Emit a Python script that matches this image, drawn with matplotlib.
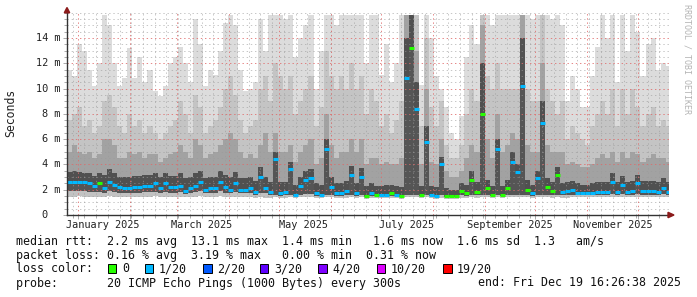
import datetime as dt
import matplotlib
matplotlib.use("Agg")
import matplotlib.pyplot as plt
import matplotlib.dates as mdates
from matplotlib.patches import Polygon, Rectangle
from matplotlib.transforms import blended_transform_factory

plt.rcParams['lines.scale_dashes'] = False

# ---------------- data (ms), one bin = 3 days starting 2024-12-25 ----------------
rtt_med = [2.6, 2.6, 2.6, 2.6, 2.5, 2.3, 2.5, 2.1, 2.6, 2.4, 2.2, 2.1, 2.1, 2.2, 2.2, 2.3, 2.3, 2.5, 2.1, 2.5,
           2.2, 2.2, 2.3, 1.9, 2.1, 2.3, 2.6, 2.0, 2.1, 2.1, 2.6, 2.2, 2.0, 2.5, 2.0, 2.0, 2.1, 1.8, 3.0, 2.1,
           1.8, 4.4, 1.7, 1.8, 3.6, 1.6, 2.3, 2.8, 2.9, 1.7, 1.6, 5.2, 2.2, 1.7, 1.7, 1.9, 3.2, 1.7, 3.0, 1.5,
           1.7, 1.6, 1.6, 1.6, 1.7, 1.6, 1.5, 10.8, 13.2, 8.4, 1.6, 5.8, 1.6, 1.5, 4.0, 1.5, 1.5, 1.5, 1.9, 1.7,
           2.8, 1.8, 8.0, 2.1, 1.6, 5.2, 1.6, 2.1, 4.2, 3.4, 10.2, 2.0, 1.7, 2.9, 7.3, 2.2, 1.9, 3.2, 1.8, 1.9,
           2.0, 1.7, 1.7, 1.7, 1.75, 1.8, 1.8, 1.85, 2.6, 1.8, 2.4, 1.85, 1.9, 2.5, 1.9, 1.9, 1.9, 1.85, 2.1, 1.8]

loss = [1, 1, 1, 1, 1, 1, 0, 1, 1, 1, 1, 1, 1, 1, 1, 1, 1, 1, 1, 1,
        1, 1, 1, 1, 1, 1, 1, 1, 1, 1, 1, 1, 1, 1, 1, 1, 1, 1, 1, 1,
        1, 1, 1, 1, 1, 1, 1, 1, 1, 1, 1, 1, 1, 1, 1, 1, 1, 1, 1, 0,
        1, 0, 1, 1, 0, 1, 0, 1, 0, 1, 0, 1, 1, 1, 1, 0, 0, 0, 0, 0,
        0, 0, 0, 0, 0, 1, 0, 0, 1, 1, 1, 0, 1, 1, 1, 0, 0, 0, 1, 1,
        1, 1, 1, 1, 1, 1, 1, 1, 1, 1, 1, 1, 1, 1, 1, 1, 1, 1, 1, 1]

rtt_max = [11.5, 11.0, 13.5, 13.0, 11.5, 10.2, 12.0, 15.8, 15.0, 12.0, 10.2, 10.8, 13.2, 10.8, 12.5, 10.5, 11.5, 9.8, 9.4, 10.2,
           12.0, 12.5, 13.3, 12.0, 10.5, 15.5, 13.5, 10.2, 11.5, 11.1, 13.0, 15.2, 15.8, 15.0, 11.5, 9.8, 10.0, 10.5, 15.5, 13.0,
           15.8, 15.8, 15.8, 15.5, 15.8, 12.5, 14.0, 15.0, 15.8, 10.0, 13.0, 15.8, 15.8, 15.0, 15.8, 15.8, 15.8, 15.8, 15.8, 12.0,
           15.8, 15.8, 11.1, 13.5, 10.5, 12.0, 15.8, 15.8, 15.8, 15.8, 10.3, 15.8, 14.0, 11.0, 10.0, 8.5, 6.5, 6.0, 7.8, 12.5,
           15.0, 13.5, 15.8, 15.8, 15.0, 15.8, 15.8, 15.8, 15.8, 15.8, 15.8, 15.8, 15.5, 15.8, 15.8, 15.8, 15.5, 15.8, 15.0, 9.0,
           11.0, 10.0, 8.5, 8.5, 11.0, 13.3, 15.8, 14.0, 15.8, 10.5, 15.8, 13.0, 15.8, 14.5, 11.0, 13.5, 14.0, 11.5, 12.0, 11.8]

rtt_p90 = [7.5, 8.0, 8.5, 7.0, 7.5, 6.5, 7.0, 9.0, 9.5, 8.5, 7.0, 6.5, 8.0, 7.0, 7.5, 6.5, 7.0, 6.5, 6.0, 6.5,
           7.0, 7.5, 9.0, 8.0, 6.5, 9.5, 8.5, 6.5, 7.0, 7.5, 8.5, 10.0, 11.0, 9.5, 7.5, 6.5, 7.0, 7.5, 10.0, 11.0,
           9.0, 12.0, 11.0, 10.0, 11.0, 8.0, 9.0, 10.0, 11.0, 7.0, 8.5, 13.0, 11.0, 10.0, 11.0, 10.0, 12.0, 10.0, 11.0, 8.0,
           10.0, 9.0, 7.0, 8.0, 6.5, 7.5, 9.0, 15.8, 15.8, 15.8, 7.0, 14.0, 8.5, 7.0, 9.0, 5.5, 4.5, 4.5, 5.5, 8.0,
           10.0, 9.0, 15.8, 11.0, 10.0, 12.0, 10.0, 10.0, 10.0, 10.0, 15.8, 10.0, 9.0, 9.0, 15.8, 10.0, 9.0, 8.0, 9.0, 6.0,
           7.0, 6.5, 6.0, 5.5, 7.0, 8.0, 9.0, 8.0, 10.0, 7.0, 10.0, 8.0, 10.0, 8.5, 7.0, 8.0, 8.5, 7.0, 7.5, 7.0]

rtt_p75 = [5.0, 5.5, 5.0, 4.8, 5.0, 4.5, 4.8, 6.0, 6.0, 5.5, 4.5, 4.5, 5.0, 4.8, 5.0, 4.5, 4.8, 4.8, 4.2, 4.5,
           4.8, 5.0, 5.5, 5.0, 4.5, 6.0, 5.5, 4.5, 4.8, 5.0, 5.5, 6.0, 6.5, 6.0, 5.0, 4.5, 4.8, 4.5, 5.5, 6.5,
           5.0, 6.5, 5.0, 5.0, 5.5, 4.2, 5.0, 5.5, 6.0, 4.0, 4.5, 8.0, 5.5, 4.5, 5.0, 5.0, 6.0, 5.0, 6.0, 4.0,
           4.5, 4.5, 4.0, 4.2, 4.0, 4.0, 4.5, 15.8, 15.8, 13.0, 4.0, 10.0, 4.2, 4.0, 6.0, 3.5, 3.0, 3.0, 3.5, 4.5,
           5.5, 5.0, 15.0, 6.0, 4.5, 8.0, 5.0, 5.5, 6.5, 6.0, 15.8, 5.5, 5.0, 5.0, 12.0, 5.5, 5.0, 5.0, 5.0, 4.0,
           4.2, 4.0, 3.8, 3.8, 4.0, 4.5, 4.8, 4.5, 5.0, 4.2, 5.0, 4.5, 5.0, 4.8, 4.2, 4.5, 4.8, 4.5, 4.5, 4.2]

rtt_p60 = [3.4, 3.5, 3.4, 3.3, 3.3, 3.1, 3.3, 3.2, 3.6, 3.3, 3.0, 3.0, 3.0, 3.1, 3.1, 3.2, 3.2, 3.3, 3.0, 3.3,
           3.1, 3.1, 3.3, 2.9, 3.0, 3.3, 3.5, 2.9, 3.0, 3.0, 3.5, 3.2, 3.0, 3.4, 2.9, 2.9, 3.0, 2.7, 3.8, 3.0,
           2.6, 5.0, 2.6, 2.6, 4.2, 2.4, 3.0, 3.5, 3.6, 2.5, 2.4, 6.0, 3.0, 2.5, 2.5, 2.7, 3.9, 2.5, 3.7, 2.3,
           2.5, 2.3, 2.3, 2.4, 2.4, 2.3, 2.2, 14.0, 15.8, 10.5, 2.3, 7.0, 2.3, 2.2, 4.6, 2.1, 2.0, 2.0, 2.5, 2.4,
           3.5, 2.6, 12.0, 2.8, 2.3, 6.0, 2.3, 2.8, 5.0, 4.0, 14.0, 2.8, 2.4, 3.5, 9.0, 2.9, 2.6, 3.8, 2.5, 2.6,
           2.7, 2.5, 2.4, 2.4, 2.5, 2.6, 2.6, 2.6, 3.3, 2.6, 3.1, 2.6, 2.7, 3.2, 2.7, 2.7, 2.7, 2.6, 2.9, 2.6]

rtt_low = [1.9, 1.9, 1.9, 1.9, 1.85, 1.8, 1.85, 1.7, 1.9, 1.8, 1.75, 1.7, 1.7, 1.75, 1.75, 1.8, 1.8, 1.85, 1.7, 1.85,
           1.75, 1.75, 1.8, 1.65, 1.7, 1.8, 1.9, 1.7, 1.7, 1.7, 1.9, 1.75, 1.7, 1.85, 1.7, 1.7, 1.7, 1.6, 1.7, 1.7,
           1.55, 1.6, 1.5, 1.55, 1.6, 1.5, 1.6, 1.65, 1.65, 1.5, 1.5, 1.6, 1.6, 1.5, 1.5, 1.55, 1.6, 1.5, 1.6, 1.45,
           1.5, 1.5, 1.5, 1.5, 1.5, 1.5, 1.45, 1.6, 1.6, 1.6, 1.5, 1.6, 1.5, 1.45, 1.55, 1.45, 1.45, 1.45, 1.55, 1.5,
           1.6, 1.55, 1.6, 1.6, 1.5, 1.6, 1.5, 1.6, 1.6, 1.6, 1.6, 1.6, 1.5, 1.6, 1.6, 1.6, 1.55, 1.6, 1.55, 1.55,
           1.6, 1.55, 1.55, 1.55, 1.55, 1.6, 1.6, 1.6, 1.65, 1.6, 1.65, 1.6, 1.6, 1.65, 1.6, 1.6, 1.6, 1.6, 1.65, 1.6]

rtt_min = [1.45, 1.45, 1.5, 1.45, 1.45, 1.4, 1.45, 1.4, 1.5, 1.45, 1.4, 1.4, 1.4, 1.45, 1.45, 1.45, 1.45, 1.5, 1.4, 1.45,
           1.45, 1.4, 1.45, 1.4, 1.4, 1.45, 1.5, 1.4, 1.4, 1.4, 1.5, 1.45, 1.4, 1.45, 1.4, 1.4, 1.4, 1.35, 1.4, 1.35,
           1.35, 1.4, 1.35, 1.35, 1.4, 1.35, 1.4, 1.4, 1.4, 1.35, 1.35, 1.4, 1.4, 1.35, 1.35, 1.35, 1.4, 1.35, 1.4, 1.3,
           1.35, 1.35, 1.35, 1.35, 1.35, 1.35, 1.3, 1.4, 1.4, 1.4, 1.35, 1.4, 1.35, 1.3, 1.35, 1.3, 1.3, 1.3, 1.35, 1.35,
           1.4, 1.35, 1.4, 1.4, 1.35, 1.4, 1.35, 1.4, 1.4, 1.4, 1.4, 1.4, 1.35, 1.4, 1.4, 1.4, 1.35, 1.4, 1.35, 1.35,
           1.4, 1.4, 1.4, 1.4, 1.4, 1.4, 1.4, 1.4, 1.45, 1.4, 1.45, 1.4, 1.4, 1.45, 1.4, 1.4, 1.4, 1.4, 1.45, 1.4]

loss_levels = [0, 1, 2, 3, 4, 10, 19]
loss_labels = ["0", "1/20", "2/20", "3/20", "4/20", "10/20", "19/20"]
loss_colors = ["#26ff00", "#00b8ff", "#0059ff", "#5e00ff", "#7e00ff", "#dd00ff", "#ff0000"]

y_ticks = [0, 2, 4, 6, 8, 10, 12, 14]
month_labels = ["January 2025", "March 2025", "May 2025", "July 2025", "September 2025", "November 2025"]
month_label_dates = [dt.datetime(2025, m, 16) for m in (1, 3, 5, 7, 9, 11)]

legend_lines = [
    "median rtt:  2.2 ms avg  13.1 ms max  1.4 ms min   1.6 ms now  1.6 ms sd  1.3   am/s",
    "packet loss: 0.16 % avg  3.19 % max   0.00 % min  0.31 % now",
]
probe_text = "probe:       20 ICMP Echo Pings (1000 Bytes) every 300s"
end_text = "end: Fri Dec 19 16:26:38 2025"

start = dt.datetime(2024, 12, 25, 16, 26, 38)
end = dt.datetime(2025, 12, 19, 16, 26, 38)
bin_days = 3

# ---------------- figure ----------------
W, H = 697, 297
fig = plt.figure(figsize=(W / 100, H / 100), dpi=100)
fig.patch.set_facecolor("white")
L, R, B, T = 67, 669, 215, 12.6
ax = fig.add_axes([L / W, 1 - B / H, (R - L) / W, (B - T) / H])
ax.set_facecolor("white")
mono = "DejaVu Sans Mono"

n = len(rtt_med)
edges = mdates.date2num([start + dt.timedelta(days=bin_days * i) for i in range(n + 1)])

bands = [
    (rtt_min, rtt_low, "#c2c2c2"),
    (rtt_low, rtt_med, "#555555"),
    (rtt_med, rtt_p60, "#505050"),
    (rtt_p60, rtt_p75, "#a2a2a2"),
    (rtt_p75, rtt_p90, "#c4c4c4"),
    (rtt_p90, rtt_max, "#dcdcdc"),
]
for lo, hi, c in bands:
    ax.stairs(hi, edges, baseline=lo, fill=True, color=c, lw=0, zorder=1)

x0, x1 = mdates.date2num(start), mdates.date2num(end)
ax.set_xlim(x0, x1)
ax.set_ylim(0, 16)

# grid (drawn above smoke, like rrdtool)
minor_c, major_c = "#9a9a9a", "#e06a6a"
dash = (0, (1.0, 2.0))
for v in [k * 0.5 for k in range(1, 33)]:
    if v % 2 == 0 and v < 16:
        continue
    ax.axhline(v, color=minor_c, lw=0.72, ls=dash, alpha=0.55, zorder=3)
d = dt.datetime(2024, 12, 29)
while d < end:
    ax.axvline(mdates.date2num(d), color=minor_c, lw=0.72, ls=dash, alpha=0.55, zorder=3)
    d += dt.timedelta(days=7)
for v in y_ticks[1:]:
    ax.axhline(v, color=major_c, lw=0.72, ls=dash, alpha=0.8, zorder=3.1)
for m in range(1, 13):
    ax.axvline(mdates.date2num(dt.datetime(2025, m, 1)), color=major_c, lw=0.72, ls=dash, alpha=0.8, zorder=3.1)

# median, coloured by loss
def loss_color(l):
    c = loss_colors[0]
    for lev, col in zip(loss_levels, loss_colors):
        if l >= lev:
            c = col
    return c

for i in range(n):
    ax.hlines(rtt_med[i], edges[i], edges[i + 1], color=loss_color(loss[i]), lw=2.2, zorder=4)

# axes styling
for s in ("top", "right"):
    ax.spines[s].set_visible(False)
for s in ("left", "bottom"):
    ax.spines[s].set_color("#333333")
    ax.spines[s].set_linewidth(1.0)
    ax.spines[s].set_zorder(5)
ax.set_xticks([mdates.date2num(dt.datetime(2025, m, 1)) for m in range(1, 13)])
ax.set_xticks([mdates.date2num(dt.datetime(2024, 12, 29) + dt.timedelta(days=7 * k)) for k in range(51)], minor=True)
ax.set_yticks(y_ticks)
ax.set_yticks([k * 0.5 for k in range(33)], minor=True)
ax.tick_params(which="both", direction="out", labelleft=False, labelbottom=False, color="#aaaaaa", width=0.7)
ax.tick_params(which="major", length=3)
ax.tick_params(which="minor", length=2)

# y tick labels
ytr = blended_transform_factory(fig.transFigure, ax.transData)
for v in y_ticks:
    if v == 0:
        fig.text(47.8 / W, v, "0", transform=ytr, ha="right", va="center", fontsize=7.4, family=mono, color="#222222")
    else:
        fig.text(60.8 / W, v, f"{v} m", transform=ytr, ha="right", va="center", fontsize=7.4, family=mono, color="#222222")

# x tick labels
for lab, dd in zip(month_labels, month_label_dates):
    ax.text(mdates.date2num(dd), -(224.5 - B) / (B - T), lab, transform=ax.get_xaxis_transform(),
            ha="center", va="center", fontsize=7.4, family=mono, color="#222222")

# axis arrows
arrow_c = "#8b1a1a"
fig.patches.append(Polygon([(64.3 / W, 1 - 12.8 / H), (69.7 / W, 1 - 12.8 / H), (67 / W, 1 - 7.5 / H)],
                           closed=True, transform=fig.transFigure, color=arrow_c, zorder=6))
fig.patches.append(Polygon([(668 / W, 1 - 212.3 / H), (668 / W, 1 - 217.7 / H), (674 / W, 1 - 215 / H)],
                           closed=True, transform=fig.transFigure, color=arrow_c, zorder=6))

# y label and watermark
fig.text(11 / W, 1 - 113 / H, "Seconds", rotation=90, ha="center", va="center", fontsize=8.3, family=mono, color="#222222")
fig.text(687 / W, 1 - 4 / H, "RRDTOOL / TOBI OETIKER", rotation=270, ha="center", va="top",
         fontsize=6.0, family=mono, color="#b4b4b4")

# legend text
ys = [241, 255.5, 269, 283]
for s, yy in zip(legend_lines, ys[:2]):
    fig.text(15.8 / W, 1 - yy / H, s, ha="left", va="center", fontsize=8.4, family=mono, color="#111111")
fig.text(15.8 / W, 1 - ys[2] / H, "loss color:", ha="left", va="center", fontsize=8.4, family=mono, color="#111111")
sq_x = [108.3, 145.0, 203.3, 260.0, 318.3, 376.7, 443.3]
for sx, lab, col in zip(sq_x, loss_labels, loss_colors):
    fig.patches.append(Rectangle((sx / W, 1 - 273 / H), 8.2 / W, 9 / H, transform=fig.transFigure,
                                 facecolor=col, edgecolor="black", lw=0.7))
    fig.text((sx + 13.8) / W, 1 - ys[2] / H, lab, ha="left", va="center", fontsize=8.4, family=mono, color="#111111")
fig.text(15.8 / W, 1 - ys[3] / H, probe_text, ha="left", va="center", fontsize=8.4, family=mono, color="#111111")
fig.text(477.5 / W, 1 - ys[3] / H, end_text, ha="left", va="center", fontsize=8.4, family=mono, color="#111111")

fig.savefig("out.png", dpi=100, facecolor="white")
